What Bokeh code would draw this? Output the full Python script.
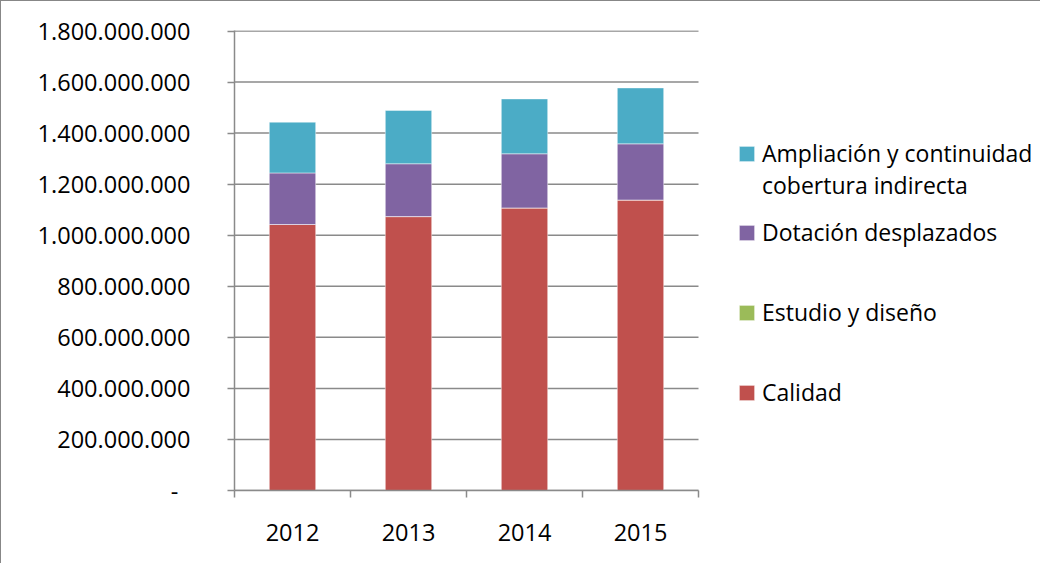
from bokeh.plotting import figure
from bokeh.models import (ColumnDataSource, Range1d, FixedTicker, Legend, LegendItem)
from bokeh.embed import file_html
from bokeh.resources import INLINE

years = ["2012", "2013", "2014", "2015"]
calidad = [1042e6, 1073e6, 1107e6, 1138e6]
estudio = [0, 0, 0, 0]
dotacion = [202e6, 207e6, 212e6, 220e6]
ampliacion = [199e6, 209e6, 215e6, 219e6]
series_names = ["Calidad", "Estudio y diseño", "Dotación desplazados",
                "Ampliación y continuidad"]
series_names_2 = "cobertura indirecta"
colors = ["#C0504D", "#9BBB59", "#8064A2", "#4BACC6"]
y_ticks = list(range(0, 1800000001, 200000000))

FONT = "Open Sans"
FS = "23.5px"
GRAY = "#8a8a8a"

FRAME_W_PLOT = 464     # pixel width of the bar area
FRAME_W = 1040 - 233   # full frame width (legend lives inside the frame)

n = len(years)
xs = [i + 0.5 for i in range(n)]
source = ColumnDataSource(dict(x=xs, calidad=calidad, estudio=estudio,
                               dotacion=dotacion, ampliacion=ampliacion))

p = figure(width=1040, height=563, output_backend="svg", toolbar_location=None,
           x_range=Range1d(0, n * FRAME_W / FRAME_W_PLOT),
           y_range=Range1d(0, 1802000000),
           min_border_left=233, min_border_right=0, min_border_top=29,
           min_border_bottom=74)
p.outline_line_color = None
p.styles = {"border-left": "1px solid #878787", "border-top": "1px solid #878787"}

# horizontal gridlines limited to the bar area
p.segment(x0=[0] * len(y_ticks), x1=[n] * len(y_ticks), y0=y_ticks, y1=y_ticks,
          line_color=GRAY, line_width=1.5)

renderers = p.vbar_stack(["calidad", "estudio", "dotacion", "ampliacion"], x="x",
                         width=0.4, source=source, color=colors,
                         line_color="white", line_alpha=0.45, line_width=1)
blank = p.scatter(x=[], y=[], fill_alpha=0, line_alpha=0)

# axes
p.xaxis.bounds = (0, n)
p.xaxis.ticker = FixedTicker(ticks=xs, minor_ticks=list(range(n + 1)))
p.xaxis.major_label_overrides = {x: y for x, y in zip(xs, years)}
p.xaxis.major_tick_line_color = None
p.xaxis.minor_tick_out = 7
p.xaxis.minor_tick_in = 0
p.xaxis.minor_tick_line_color = GRAY
p.xaxis.minor_tick_line_width = 1.5
p.xaxis.axis_line_color = GRAY
p.xaxis.axis_line_width = 1.5
p.xaxis.major_label_standoff = 26
p.xaxis.major_label_text_font = FONT
p.xaxis.major_label_text_font_size = FS
p.xaxis.major_label_text_color = "black"

p.yaxis.ticker = FixedTicker(ticks=y_ticks)
p.yaxis.major_label_overrides = {t: (f"{t:,}".replace(",", ".") if t else "-\u00a0\u00a0")
                                 for t in y_ticks}
p.yaxis.major_tick_out = 7
p.yaxis.major_tick_in = 0
p.yaxis.minor_tick_line_color = None
p.yaxis.major_tick_line_color = GRAY
p.yaxis.major_tick_line_width = 1.5
p.yaxis.axis_line_color = GRAY
p.yaxis.axis_line_width = 1.5
p.yaxis.major_label_standoff = 37
p.yaxis.major_label_text_font = FONT
p.yaxis.major_label_text_font_size = FS
p.yaxis.major_label_text_color = "black"

p.xgrid.grid_line_color = None
p.ygrid.grid_line_color = None

common = dict(padding=0, margin=0, border_line_color=None, background_fill_alpha=0,
              glyph_width=19, glyph_height=19, label_standoff=6,
              label_text_font=FONT, label_text_font_size="23px",
              label_text_color="black")

leg1 = Legend(items=[LegendItem(label=series_names[3], renderers=[renderers[3]]),
                     LegendItem(label=series_names_2, renderers=[blank])],
              location=(503, 289), spacing=0, **common)
leg2 = Legend(items=[LegendItem(label=series_names[i], renderers=[renderers[i]])
                     for i in [2, 1, 0]],
              location=(503, 82), spacing=48, **common)
p.add_layout(leg1)
p.add_layout(leg2)

open("out.html", "w").write(file_html(p, INLINE))
